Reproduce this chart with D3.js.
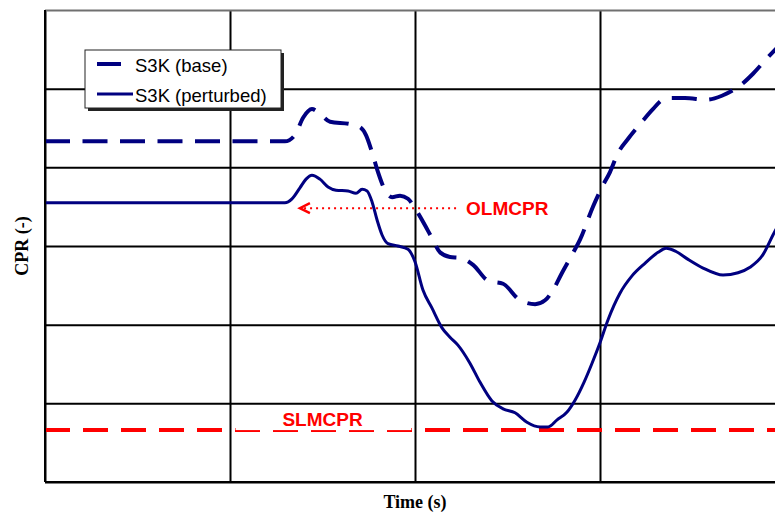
<!DOCTYPE html>
<html>
<head>
<meta charset="utf-8">
<script src="https://cdn.jsdelivr.net/npm/d3@7"></script>
<style>
  body { margin: 0; background: #fff; }
  svg { display: block; }
</style>
</head>
<body>
<svg id="chart" width="775" height="512"></svg>
<script>
// values (time in grid units, CPR with 0.1 per grid row)
var baseTime = [0, 1.297, 1.351, 1.395, 1.443, 1.486, 1.541, 1.649, 1.703, 1.735, 1.768, 1.800, 1.838, 1.876, 1.919, 1.962, 1.995, 2.038, 2.092, 2.135, 2.189, 2.243, 2.314, 2.395, 2.476, 2.568, 2.649, 2.703, 2.746, 2.795, 2.849, 2.892, 2.962, 3.011, 3.054, 3.097, 3.151, 3.227, 3.286, 3.341, 3.389, 3.459, 3.578, 3.659, 3.719, 3.768, 3.827, 3.908, 3.973];
var baseCPR = [1.433, 1.433, 1.441, 1.463, 1.474, 1.468, 1.458, 1.455, 1.451, 1.441, 1.419, 1.394, 1.371, 1.362, 1.364, 1.360, 1.350, 1.333, 1.310, 1.292, 1.286, 1.285, 1.276, 1.256, 1.252, 1.231, 1.226, 1.231, 1.244, 1.266, 1.289, 1.308, 1.350, 1.375, 1.394, 1.418, 1.436, 1.458, 1.474, 1.486, 1.488, 1.488, 1.486, 1.491, 1.498, 1.506, 1.519, 1.540, 1.556];

var pertTime = [0, 1.297, 1.335, 1.378, 1.411, 1.443, 1.486, 1.530, 1.573, 1.638, 1.681, 1.714, 1.741, 1.768, 1.795, 1.822, 1.854, 1.908, 1.962, 2.000, 2.043, 2.092, 2.146, 2.189, 2.232, 2.297, 2.351, 2.416, 2.476, 2.541, 2.605, 2.676, 2.719, 2.768, 2.822, 2.865, 2.914, 2.957, 3.000, 3.043, 3.108, 3.173, 3.243, 3.314, 3.357, 3.411, 3.476, 3.557, 3.665, 3.746, 3.811, 3.881, 3.935, 3.973];
var pertCPR = [1.355, 1.355, 1.360, 1.374, 1.385, 1.390, 1.385, 1.375, 1.371, 1.370, 1.367, 1.372, 1.370, 1.356, 1.333, 1.314, 1.303, 1.300, 1.296, 1.280, 1.244, 1.221, 1.196, 1.184, 1.174, 1.151, 1.127, 1.103, 1.093, 1.088, 1.076, 1.070, 1.070, 1.079, 1.089, 1.104, 1.127, 1.151, 1.177, 1.206, 1.240, 1.262, 1.278, 1.292, 1.297, 1.293, 1.283, 1.272, 1.263, 1.266, 1.273, 1.289, 1.314, 1.331];

var timeTicks = [0, 1, 2, 3, 4];
var cprTicks = [1.0, 1.1, 1.2, 1.3, 1.4, 1.5, 1.6];
var seriesNames = ["S3K (base)", "S3K (perturbed)"];
var slmcpr = 1.066;
var olmcpr = 1.348;
var olmcprFrom = 2.222, olmcprTo = 1.378; // arrow runs right to left

var navy = "#000080", red = "#ff0000";

var svg = d3.select("#chart");
var margin = {left: 45, top: 10, bottom: 30};
var plotW = 740, plotH = 472;

var x = d3.scaleLinear().domain([0, 4]).range([margin.left, margin.left + plotW]);
var y = d3.scaleLinear().domain([1.0, 1.6]).range([margin.top + plotH, margin.top]);

// grid
svg.append("g")
    .attr("transform", "translate(0," + (margin.top + plotH) + ")")
    .call(d3.axisBottom(x).tickValues(timeTicks).tickSize(-plotH).tickFormat(""))
    .call(function (g) {
        g.select(".domain").remove();
        g.selectAll("line").attr("stroke", "#000").attr("stroke-width", 2);
    });
svg.append("g")
    .attr("transform", "translate(" + margin.left + ",0)")
    .call(d3.axisLeft(y).tickValues(cprTicks).tickSize(-plotW).tickFormat(""))
    .call(function (g) {
        g.select(".domain").remove();
        g.selectAll("line").attr("stroke", "#000").attr("stroke-width", 2);
        g.selectAll(".tick").filter(function (d) { return d === 1.6; })
            .select("line").attr("stroke", "#707070");
    });

// SLMCPR line
svg.append("line")
    .attr("x1", x(0)).attr("x2", x(4))
    .attr("y1", y(slmcpr)).attr("y2", y(slmcpr))
    .attr("stroke", red).attr("stroke-width", 4)
    .attr("stroke-dasharray", "25,13");

// label box partly covering the line
svg.append("rect")
    .attr("x", x(1.03)).attr("y", y(slmcpr) - 22)
    .attr("width", x(1.98) - x(1.03)).attr("height", 22)
    .attr("fill", "#fff");
svg.append("text")
    .attr("x", x(1.5)).attr("y", y(slmcpr) - 4)
    .attr("text-anchor", "middle")
    .attr("font-family", "Arial, 'Liberation Sans', sans-serif")
    .attr("font-weight", "bold").attr("font-size", 19)
    .attr("fill", red).text("SLMCPR");

var line = d3.line()
    .x(function (d) { return x(d[0]); })
    .y(function (d) { return y(d[1]); })
    .curve(d3.curveMonotoneX);

svg.append("path")
    .datum(d3.zip(baseTime, baseCPR))
    .attr("d", line)
    .attr("fill", "none").attr("stroke", navy).attr("stroke-width", 4)
    .attr("stroke-dasharray", "25,12.5");

svg.append("path")
    .datum(d3.zip(pertTime, pertCPR))
    .attr("d", line)
    .attr("fill", "none").attr("stroke", navy).attr("stroke-width", 3);

// OLMCPR arrow
svg.append("line")
    .attr("x1", x(olmcprFrom)).attr("x2", x(olmcprTo) + 3)
    .attr("y1", y(olmcpr)).attr("y2", y(olmcpr))
    .attr("stroke", red).attr("stroke-width", 2)
    .attr("stroke-dasharray", "2,4");
svg.append("path")
    .attr("d", "M" + (x(olmcprTo) + 10) + "," + (y(olmcpr) - 5) +
               "L" + x(olmcprTo) + "," + y(olmcpr) +
               "L" + (x(olmcprTo) + 10) + "," + (y(olmcpr) + 5))
    .attr("fill", "none").attr("stroke", red).attr("stroke-width", 2.5);
svg.append("text")
    .attr("x", x(olmcprFrom) + 10).attr("y", y(olmcpr) + 7)
    .attr("font-family", "Arial, 'Liberation Sans', sans-serif")
    .attr("font-weight", "bold").attr("font-size", 19)
    .attr("fill", red).text("OLMCPR");

// frame: left and bottom edges
svg.append("line")
    .attr("x1", margin.left).attr("x2", margin.left)
    .attr("y1", margin.top).attr("y2", margin.top + plotH)
    .attr("stroke", "#000").attr("stroke-width", 2);
svg.append("line")
    .attr("x1", margin.left).attr("x2", margin.left + plotW)
    .attr("y1", margin.top + plotH).attr("y2", margin.top + plotH)
    .attr("stroke", "#000").attr("stroke-width", 2);

// legend
var lg = svg.append("g").attr("transform", "translate(85,50)");
lg.append("rect").attr("x", 3).attr("y", 3).attr("width", 196).attr("height", 58).attr("fill", "#222");
lg.append("rect").attr("x", 0).attr("y", 0).attr("width", 196).attr("height", 58)
    .attr("fill", "#fff").attr("stroke", "#222").attr("stroke-width", 1);
seriesNames.forEach(function (name, i) {
    var ly = 14 + i * 30;
    lg.append("line")
        .attr("x1", 12).attr("x2", i === 0 ? 36 : 48)
        .attr("y1", ly).attr("y2", ly)
        .attr("stroke", navy).attr("stroke-width", i === 0 ? 4 : 3);
    lg.append("text")
        .attr("x", 50).attr("y", ly + 8)
        .attr("font-family", "Arial, 'Liberation Sans', sans-serif")
        .attr("font-size", 18.5).attr("fill", "#000").text(name);
});

// axis titles
svg.append("text")
    .attr("transform", "translate(28," + y(1.3) + ") rotate(-90)")
    .attr("text-anchor", "middle")
    .attr("font-family", "'Times New Roman', 'Liberation Serif', serif")
    .attr("font-weight", "bold").attr("font-size", 18)
    .text("CPR (-)");
svg.append("text")
    .attr("x", x(2)).attr("y", 508)
    .attr("text-anchor", "middle")
    .attr("font-family", "'Times New Roman', 'Liberation Serif', serif")
    .attr("font-weight", "bold").attr("font-size", 18)
    .text("Time (s)");
</script>
</body>
</html>
